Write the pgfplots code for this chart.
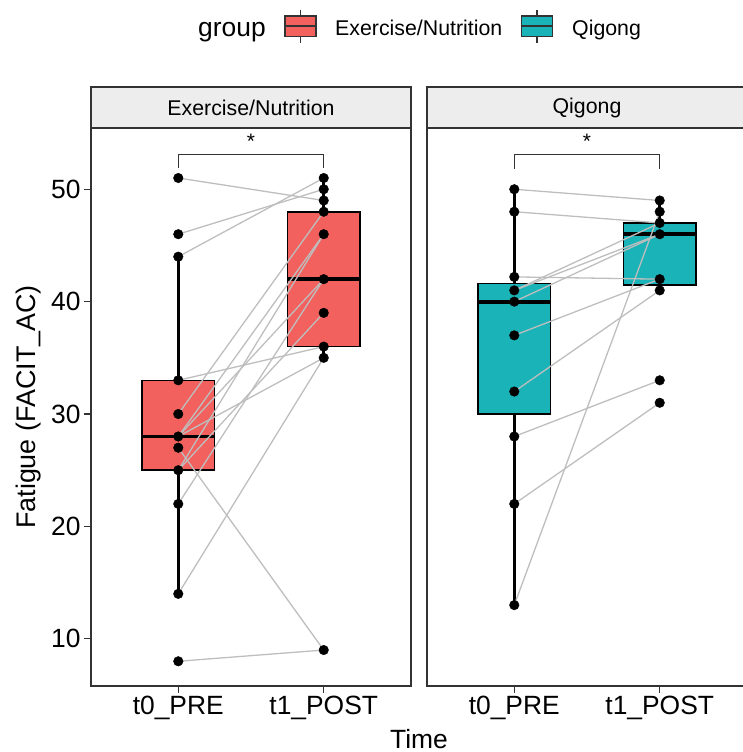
\documentclass[border=0pt]{standalone}
\usepackage{fontspec}
\setmainfont{Liberation Sans}
\usepackage{pgfplots}
\pgfplotsset{compat=1.18}

\definecolor{exred}{HTML}{F2615E}
\definecolor{qiteal}{HTML}{1AB3B8}
\definecolor{stripgray}{HTML}{EDEDED}
\definecolor{pairgray}{HTML}{BEBEBE}
\definecolor{frame}{HTML}{333333}

\pgfplotsset{
  panel/.style={
    scale only axis, width=320bp, height=558bp,
    xmin=0.4, xmax=2.6, ymin=5.8, ymax=55.45,
    clip=false,
    xtick={1,2}, xticklabels={t0\_PRE,t1\_POST},
    tick pos=left, tick align=outside, major tick length=7bp,
    tick style={frame, line width=1.4bp},
    axis line style={frame, line width=1.6bp},
    ticklabel style={font=\fontsize{26.5}{30}\selectfont, text=black},
    /pgf/number format/assume math mode=true,
  },
  pairline/.style={pairgray, line width=1.3bp, forget plot},
  dots/.style={only marks, mark=*, mark size=4.8bp, black, forget plot},
  boxface/.style={draw=black, line width=1.6bp, fill=#1, forget plot},
  whisk/.style={black, line width=2.6bp, forget plot},
  med/.style={black, line width=3.8bp, forget plot},
}

\begin{document}
\begin{tikzpicture}
\path[use as bounding box] (0,0) rectangle (743bp,752bp);

% ---- Exercise/Nutrition panel
\begin{axis}[panel, at={(91bp,66bp)}, anchor=south west,
  ytick={10,20,30,40,50}]
% t0_PRE: whiskers 14-44, box 25-33, median 28
\addplot[whisk] coordinates {(1,14) (1,25)};
\addplot[whisk] coordinates {(1,33) (1,44)};
\addplot[boxface=exred] coordinates {(0.75,25) (1.25,25) (1.25,33) (0.75,33)} -- cycle;
\addplot[med] coordinates {(0.75,28) (1.25,28)};
% t1_POST: whiskers 35-51, box 36-48, median 42
\addplot[whisk] coordinates {(2,35) (2,36)};
\addplot[whisk] coordinates {(2,48) (2,51)};
\addplot[boxface=exred] coordinates {(1.75,36) (2.25,36) (2.25,48) (1.75,48)} -- cycle;
\addplot[med] coordinates {(1.75,42) (2.25,42)};
% paired lines
\addplot[pairline] coordinates {(1,51) (2,49)};
\addplot[pairline] coordinates {(1,46) (2,50)};
\addplot[pairline] coordinates {(1,44) (2,51)};
\addplot[pairline] coordinates {(1,33) (2,36)};
\addplot[pairline] coordinates {(1,30) (2,48)};
\addplot[pairline] coordinates {(1,28) (2,46)};
\addplot[pairline] coordinates {(1,28) (2,42)};
\addplot[pairline] coordinates {(1,28) (2,35)};
\addplot[pairline] coordinates {(1,27) (2,9)};
\addplot[pairline] coordinates {(1,25) (2,46)};
\addplot[pairline] coordinates {(1,25) (2,39)};
\addplot[pairline] coordinates {(1,22) (2,42)};
\addplot[pairline] coordinates {(1,14) (2,35)};
\addplot[pairline] coordinates {(1,8) (2,9)};
% points
\addplot[dots] coordinates {(1,51) (1,46) (1,44) (1,33) (1,30) (1,28) (1,27) (1,25) (1,22) (1,14) (1,8)};
\addplot[dots] coordinates {(2,51) (2,50) (2,49) (2,48) (2,46) (2,42) (2,39) (2,36) (2,35) (2,9)};
% significance bracket
\draw[frame, line width=1.1bp] (axis cs:1,51.9) -- (axis cs:1,53.1) -- (axis cs:2,53.1) -- (axis cs:2,51.9);
\node[anchor=base, font=\fontsize{21}{24}\selectfont] at (axis cs:1.5,53.6) {*};
% strip
\draw[fill=stripgray, draw=frame, line width=1.6bp] (rel axis cs:0,1) rectangle (rel axis cs:1,1.0735);
\node[font=\fontsize{21.4}{24}\selectfont] at (rel axis cs:0.5,1.0367) {Exercise/Nutrition};
\end{axis}

% ---- Qigong panel
\begin{axis}[panel, at={(427bp,66bp)}, anchor=south west, ytick=\empty]
% t0_PRE: whiskers 13-50, box 30-41.6, median 40
\addplot[whisk] coordinates {(1,13) (1,30)};
\addplot[whisk] coordinates {(1,41.6) (1,50)};
\addplot[boxface=qiteal] coordinates {(0.75,30) (1.25,30) (1.25,41.6) (0.75,41.6)} -- cycle;
\addplot[med] coordinates {(0.75,40) (1.25,40)};
% t1_POST: whiskers 41-49, box 41.5-47, median 46
\addplot[whisk] coordinates {(2,41) (2,41.5)};
\addplot[whisk] coordinates {(2,47) (2,49)};
\addplot[boxface=qiteal] coordinates {(1.75,41.5) (2.25,41.5) (2.25,47) (1.75,47)} -- cycle;
\addplot[med] coordinates {(1.75,46) (2.25,46)};
% paired lines
\addplot[pairline] coordinates {(1,50) (2,49)};
\addplot[pairline] coordinates {(1,48) (2,47)};
\addplot[pairline] coordinates {(1,42.2) (2,42)};
\addplot[pairline] coordinates {(1,41) (2,47)};
\addplot[pairline] coordinates {(1,41) (2,46)};
\addplot[pairline] coordinates {(1,40) (2,46)};
\addplot[pairline] coordinates {(1,37) (2,42)};
\addplot[pairline] coordinates {(1,32) (2,41)};
\addplot[pairline] coordinates {(1,28) (2,33)};
\addplot[pairline] coordinates {(1,22) (2,31)};
\addplot[pairline] coordinates {(1,13) (2,48)};
% points
\addplot[dots] coordinates {(1,50) (1,48) (1,42.2) (1,41) (1,40) (1,37) (1,32) (1,28) (1,22) (1,13)};
\addplot[dots] coordinates {(2,49) (2,48) (2,47) (2,46) (2,42) (2,41) (2,33) (2,31)};
% significance bracket
\draw[frame, line width=1.1bp] (axis cs:1,51.8) -- (axis cs:1,53.1) -- (axis cs:2,53.1) -- (axis cs:2,51.8);
\node[anchor=base, font=\fontsize{21}{24}\selectfont] at (axis cs:1.5,53.6) {*};
% strip
\draw[fill=stripgray, draw=frame, line width=1.6bp] (rel axis cs:0,1) rectangle (rel axis cs:1,1.0735);
\node[font=\fontsize{21.4}{24}\selectfont] at (rel axis cs:0.5,1.0367) {Qigong};
\end{axis}

% ---- axis titles
\node[anchor=base, rotate=90, font=\fontsize{27}{30}\selectfont] at (35bp,345bp) {Fatigue (FACIT\_AC)};
\node[anchor=base, font=\fontsize{26.5}{30}\selectfont] at (419bp,4bp) {Time};

% ---- legend
\node[anchor=base west, font=\fontsize{26.5}{30}\selectfont, inner sep=0pt] at (198bp,715bp) {group};
\draw[frame, line width=1.4bp] (300.5bp,742bp) -- (300.5bp,709bp);
\draw[fill=exred, draw=frame, line width=1.4bp] (285bp,736bp) rectangle (316bp,715.3bp);
\draw[frame, line width=1.4bp] (285bp,726bp) -- (316bp,726bp);
\node[anchor=base west, font=\fontsize{21.4}{24}\selectfont, inner sep=0pt] at (335bp,716bp) {Exercise/Nutrition};
\draw[frame, line width=1.4bp] (537bp,742bp) -- (537bp,709bp);
\draw[fill=qiteal, draw=frame, line width=1.4bp] (521.7bp,736bp) rectangle (552.7bp,715.3bp);
\draw[frame, line width=1.4bp] (521.7bp,726bp) -- (552.7bp,726bp);
\node[anchor=base west, font=\fontsize{21.4}{24}\selectfont, inner sep=0pt] at (572bp,716bp) {Qigong};
\end{tikzpicture}
\end{document}
